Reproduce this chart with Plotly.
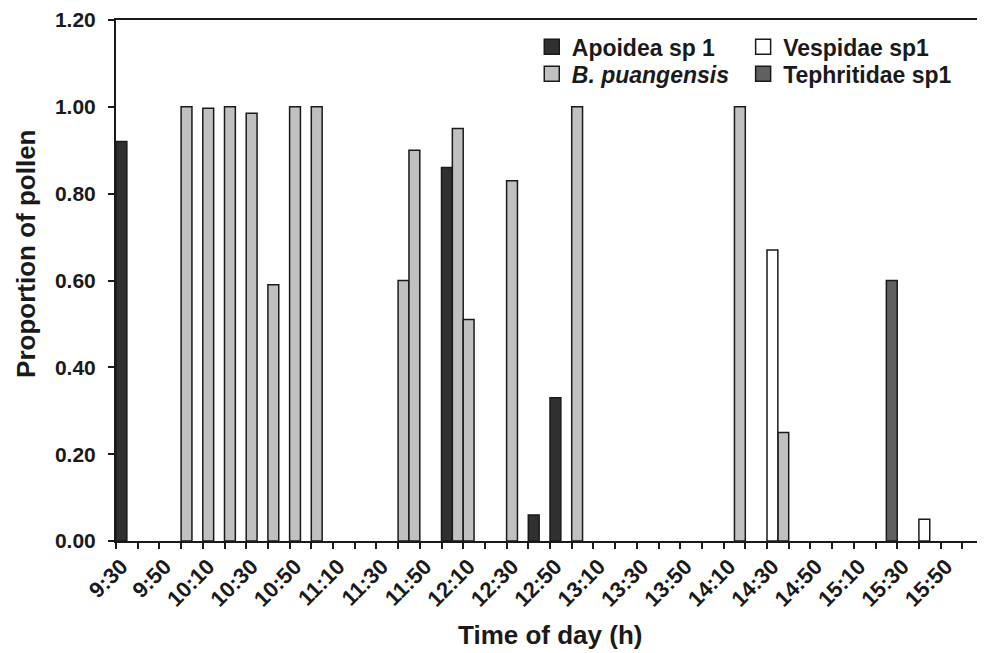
import plotly.graph_objects as go

# ---------------- data ----------------
start_time = "9:30"
end_time = "16:10"
slot_minutes = 5

apoidea_times = ["9:30", "12:00", "12:40", "12:50"]
apoidea_vals = [0.92, 0.86, 0.06, 0.33]

bpuang_times = ["10:00", "10:10", "10:20", "10:30", "10:40", "10:50", "11:00",
                "11:40", "11:45", "12:05", "12:10", "12:30", "13:00", "14:15", "14:35"]
bpuang_vals = [1.00, 0.997, 1.00, 0.985, 0.59, 1.00, 1.00,
               0.60, 0.90, 0.95, 0.51, 0.83, 1.00, 1.00, 0.25]

vespidae_times = ["14:30", "15:40"]
vespidae_vals = [0.67, 0.05]

tephritidae_times = ["15:25"]
tephritidae_vals = [0.60]

tick_labels = ["9:30", "9:50", "10:10", "10:30", "10:50", "11:10", "11:30", "11:50",
               "12:10", "12:30", "12:50", "13:10", "13:30", "13:50", "14:10", "14:30",
               "14:50", "15:10", "15:30", "15:50"]

y_ticks = [0.0, 0.2, 0.4, 0.6, 0.8, 1.0, 1.2]


def to_min(t):
    h, m = t.split(":")
    return int(h) * 60 + int(m)


t0 = to_min(start_time)


def centers(times):
    return [to_min(t) - t0 + slot_minutes / 2 for t in times]


FONT = "Liberation Sans, Arial, Helvetica, sans-serif"
INK = "#1a1a1a"
LINE = dict(color=INK, width=1.5)

fig = go.Figure()

# legend placement (paper coords) for the 2x2 legend grid
leg_cols = [0.479, 0.7225]
leg_rows = [0.990, 0.938]

series = [
    ("Apoidea sp 1", apoidea_times, apoidea_vals, "#303030", "legend", 0, 0),
    ("<i>B. puangensis</i>", bpuang_times, bpuang_vals, "#c0c0c0", "legend2", 0, 1),
    ("Vespidae sp1", vespidae_times, vespidae_vals, "#ffffff", "legend3", 1, 0),
    ("Tephritidae sp1", tephritidae_times, tephritidae_vals, "#606060", "legend4", 1, 1),
]
legends = {}
for name, times, vals, color, leg, col, row in series:
    fig.add_trace(go.Bar(
        x=centers(times), y=vals, width=slot_minutes, name=name,
        marker=dict(color=color, line=LINE), showlegend=False,
    ))
    # legend-only entry with a larger square swatch
    fig.add_trace(go.Scatter(
        x=[None], y=[None], mode="markers", name=name, legend=leg,
        marker=dict(symbol="square", size=15, color=color,
                    line=dict(color=INK, width=1.5)),
        hoverinfo="skip",
    ))
    legends[leg] = dict(
        x=leg_cols[col], y=leg_rows[row], xanchor="left", yanchor="top",
        font=dict(family=FONT, size=23, color=INK, weight="bold"),
        bgcolor="rgba(0,0,0,0)", itemwidth=30,
    )

span = to_min(end_time) - t0

# the page body adds an 8px offset, so the figure is sized/margined to compensate
fig.update_layout(
    template="none",
    width=977, height=645,
    margin=dict(l=108, r=1, t=12, b=112, autoexpand=False),
    plot_bgcolor="white", paper_bgcolor="white",
    barmode="overlay",
    font=dict(family=FONT, size=20, color=INK),
    showlegend=True,
    **legends,
)

fig.update_xaxes(
    range=[0, span], automargin=False,
    tickmode="array",
    tickvals=centers(tick_labels),
    ticktext=tick_labels,
    tickangle=-45,
    ticks="outside", ticklen=2, tickcolor="rgba(0,0,0,0)",
    tickfont=dict(family=FONT, size=22, color=INK, weight="bold"),
    minor=dict(tickmode="linear", tick0=0, dtick=10, ticks="outside",
               ticklen=6, tickwidth=2, tickcolor=INK, showgrid=False),
    showline=True, linecolor=INK, linewidth=2, mirror=True,
    showgrid=False, zeroline=False,
)

fig.update_yaxes(
    range=[0, 1.2], automargin=False,
    tickmode="array", tickvals=y_ticks,
    ticktext=[f"{v:.2f}" for v in y_ticks],
    ticks="outside", ticklen=6, tickwidth=2, tickcolor=INK,
    tickfont=dict(family=FONT, size=21, color=INK, weight="bold"),
    ticklabelstandoff=8,
    showline=True, linecolor=INK, linewidth=2, mirror=True,
    showgrid=False, zeroline=False,
)

fig.add_annotation(
    text="<b>Time of day (h)</b>", xref="paper", yref="paper",
    x=0.5, y=-0.181, xanchor="center", yanchor="middle", showarrow=False,
    font=dict(family=FONT, size=26, color=INK),
)
fig.add_annotation(
    text="<b>Proportion of pollen</b>", xref="paper", yref="paper",
    x=-0.1037, y=0.551, xanchor="center", yanchor="middle", showarrow=False,
    textangle=-90, font=dict(family=FONT, size=26, color=INK),
)

fig.write_html("out.html")
